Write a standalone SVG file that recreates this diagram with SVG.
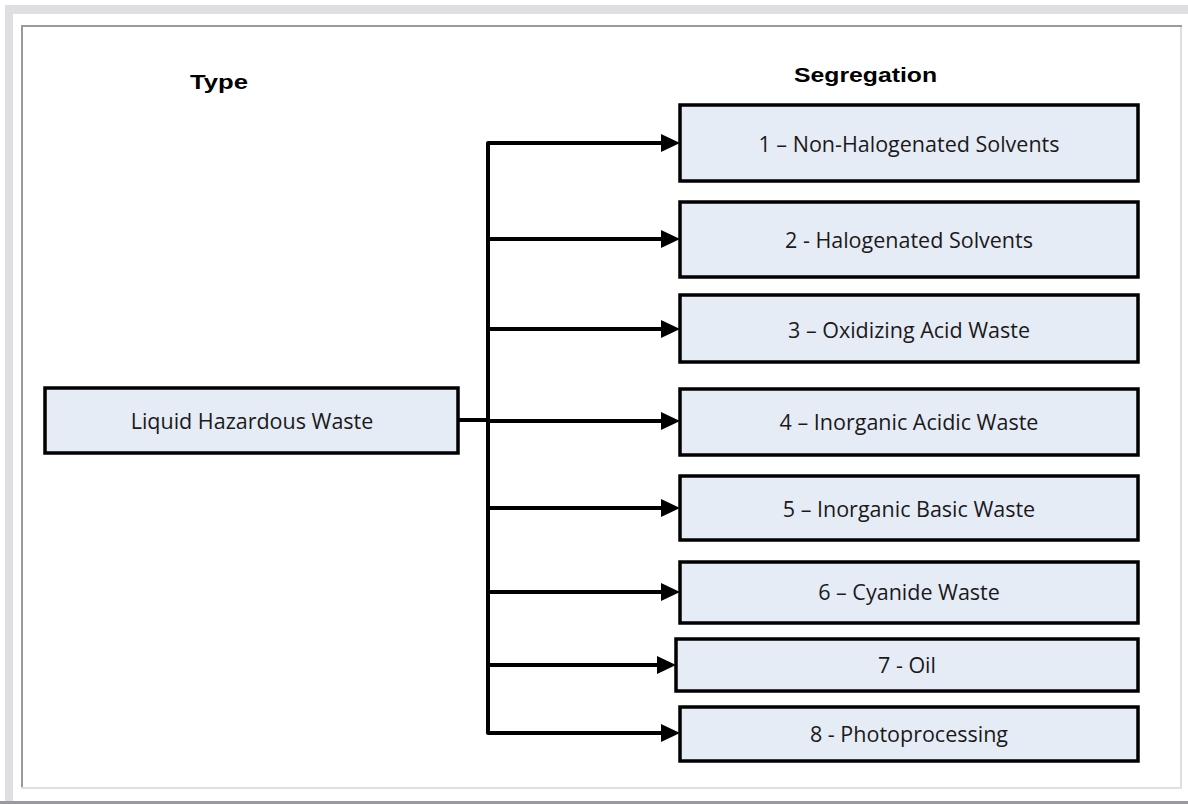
<svg xmlns="http://www.w3.org/2000/svg" width="1188" height="804" viewBox="0 0 1188 804">
<defs>
<style>
.box{fill:#e6ecf6;stroke:#000;stroke-width:3.5;}
.lbl{font-family:"Open Sans","Liberation Sans",sans-serif;font-size:21.5px;fill:#1a1a1a;text-anchor:middle;dominant-baseline:central;}
.title{font-family:"Liberation Sans",Arial,sans-serif;font-size:21px;font-weight:bold;fill:#000;}
.conn{fill:none;stroke:#000;stroke-width:4;stroke-linejoin:round;}
</style>
<marker id="ah" markerUnits="userSpaceOnUse" markerWidth="19" markerHeight="18" refX="0" refY="9" orient="auto" viewBox="0 0 19 18">
<path d="M0,0 L19,9 L0,18 z" fill="#000"/>
</marker>
</defs>
<rect x="0" y="0" width="1188" height="804" fill="#fff"/>
<rect x="5" y="5" width="1183" height="9" fill="#dfdfe3"/>
<rect x="5" y="5" width="8" height="796" fill="#dfdfe3"/>
<rect x="0" y="801" width="1188" height="3" fill="#9a9a9e"/>
<rect x="21" y="25" width="1161" height="2" fill="#9a9a9e"/>
<rect x="21" y="25" width="2" height="764" fill="#9a9a9e"/>
<rect x="1180" y="27" width="2" height="762" fill="#dfdfe3"/>
<rect x="21" y="787" width="1161" height="2" fill="#dfdfe3"/>
<text class="title" x="190" y="89" textLength="58" lengthAdjust="spacingAndGlyphs">Type</text>
<text class="title" x="794" y="82" textLength="143" lengthAdjust="spacingAndGlyphs">Segregation</text>
<g id="connectors">
<path class="conn" d="M458,420 H488"/>
<path class="conn" d="M661,143 H488 V733 H661"/>
<line class="conn" x1="488" y1="143" x2="661" y2="143" marker-end="url(#ah)"/>
<line class="conn" x1="488" y1="239" x2="661" y2="239" marker-end="url(#ah)"/>
<line class="conn" x1="488" y1="329" x2="661" y2="329" marker-end="url(#ah)"/>
<line class="conn" x1="488" y1="421" x2="661" y2="421" marker-end="url(#ah)"/>
<line class="conn" x1="488" y1="508" x2="661" y2="508" marker-end="url(#ah)"/>
<line class="conn" x1="488" y1="592" x2="661" y2="592" marker-end="url(#ah)"/>
<line class="conn" x1="488" y1="665" x2="657" y2="665" marker-end="url(#ah)"/>
<line class="conn" x1="488" y1="733" x2="661" y2="733" marker-end="url(#ah)"/>
</g>
<g id="liquid">
<rect class="box" x="45" y="388" width="413" height="65"/>
<text class="lbl" x="252" y="420">Liquid Hazardous Waste</text>
</g>
<g id="seg1">
<rect class="box" x="680" y="105" width="458" height="76"/>
<text class="lbl" x="909" y="143">1 – Non-Halogenated Solvents</text>
</g>
<g id="seg2">
<rect class="box" x="680" y="202" width="458" height="75"/>
<text class="lbl" x="909" y="239">2 - Halogenated Solvents</text>
</g>
<g id="seg3">
<rect class="box" x="680" y="295" width="458" height="67"/>
<text class="lbl" x="909" y="329">3 – Oxidizing Acid Waste</text>
</g>
<g id="seg4">
<rect class="box" x="680" y="389" width="458" height="66"/>
<text class="lbl" x="909" y="421">4 – Inorganic Acidic Waste</text>
</g>
<g id="seg5">
<rect class="box" x="680" y="476" width="458" height="64"/>
<text class="lbl" x="909" y="508">5 – Inorganic Basic Waste</text>
</g>
<g id="seg6">
<rect class="box" x="680" y="562" width="458" height="61"/>
<text class="lbl" x="909" y="591">6 – Cyanide Waste</text>
</g>
<g id="seg7">
<rect class="box" x="676" y="639" width="462" height="52"/>
<text class="lbl" x="907" y="664">7 - Oil</text>
</g>
<g id="seg8">
<rect class="box" x="680" y="707" width="458" height="54"/>
<text class="lbl" x="909" y="733">8 - Photoprocessing</text>
</g>
</svg>
